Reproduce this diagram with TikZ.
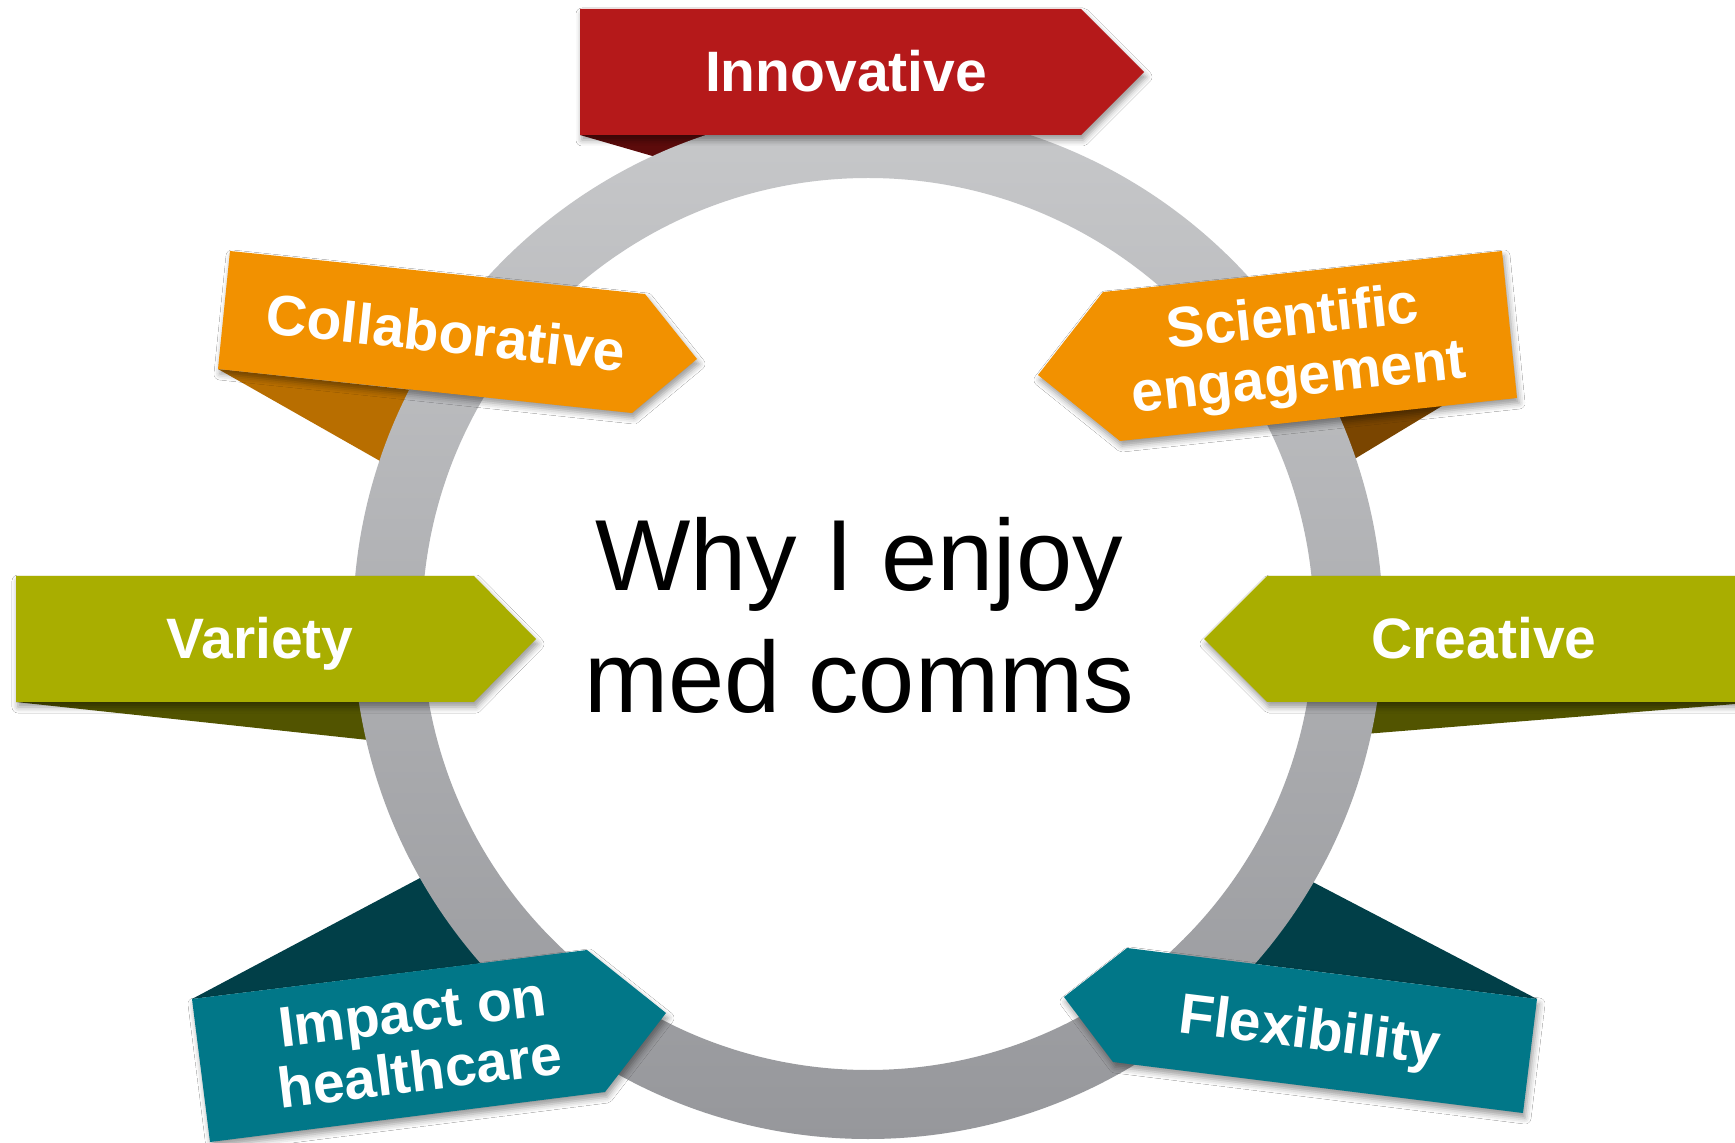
\documentclass[tikz,border=0pt]{standalone}
\usepackage{fontspec}
\setmainfont{Liberation Sans}
\usetikzlibrary{shadows.blur}

\definecolor{innovred}{HTML}{B5191A}
\definecolor{redfold}{HTML}{5C0B0B}
\definecolor{orangeband}{HTML}{F29100}
\definecolor{orangefold}{HTML}{B86E00}
\definecolor{orangefoldR}{HTML}{7A4500}
\definecolor{oliveband}{HTML}{A9AE00}
\definecolor{olivefold}{HTML}{525400}
\definecolor{tealband}{HTML}{017788}
\definecolor{tealfold}{HTML}{013F48}
\definecolor{ringtop}{HTML}{C7C8CA}
\definecolor{ringbot}{HTML}{96979B}

\begin{document}
\begin{tikzpicture}[x=0.5pt, y=-0.5pt,
  ribbon/.style={blur shadow={shadow xshift=1pt, shadow yshift=-2.5pt, shadow blur radius=3pt, shadow opacity=40}},
  ribtext/.style={anchor=north, text=white, inner sep=0pt, align=center,
    font=\fontsize{28.5}{30}\selectfont\bfseries}]
\useasboundingbox[fill=white] (0,0) rectangle (1735,1143);
\coordinate (ring) at (868,624);

% folds, tucked behind the ring
\fill[redfold] (580,135) -- (680,164) -- (730,135) -- cycle;
\fill[orangefold] (218,369) -- (410,478) -- (440,393) -- cycle;
\fill[orangefoldR] (1480,383) -- (1333,472) -- (1300,421) -- cycle;
\fill[olivefold] (16,702) -- (396,743) -- (420,702) -- cycle;
\fill[olivefold] (1760,702) -- (1340,736) -- (1316,702) -- cycle;
\fill[tealfold] (192,999) -- (454,860) -- (500,961) -- cycle;
\fill[tealfold] (1537,999) -- (1282,866) -- (1240,962) -- cycle;

% the ring
\shade[top color=ringtop, bottom color=ringbot, even odd rule]
  (ring) circle[radius=515] (ring) circle[radius=446];

% banners
\fill[innovred, ribbon] (580,9) -- (1081,9) -- (1144,72) -- (1081,135) -- (580,135) -- cycle;
\fill[orangeband, ribbon] (230,251) -- (645,294) -- (697,359) -- (632,413) -- (218,369) -- cycle;
\fill[orangeband, ribbon] (1038,375) -- (1103,292) -- (1502,251) -- (1517,398) -- (1120,441) -- cycle;
\fill[oliveband, ribbon] (16,576) -- (474,576) -- (536,639) -- (474,702) -- (16,702) -- cycle;
\fill[oliveband, ribbon] (1204,639) -- (1267,576) -- (1760,576) -- (1760,702) -- (1267,702) -- cycle;
\fill[tealband, ribbon] (192,999) -- (587,950) -- (666,1013) -- (605,1092) -- (210,1142) -- cycle;
\fill[tealband, ribbon] (1064,997) -- (1127,948) -- (1537,999) -- (1523,1113) -- (1113,1062) -- cycle;

% labels
\node[ribtext] (innov) at (846,50) {Innovative};
\node[ribtext, rotate=-6] (collab) at (448,311) {Collaborative};
\node[ribtext, rotate=6] (sci) at (1290,294) {Scientific\\engagement};
\node[ribtext] (variety) at (260,617) {Variety};
\node[ribtext] (creative) at (1484,617) {Creative};
\node[ribtext, rotate=7] (impact) at (410,992) {Impact on\\healthcare};
\node[ribtext, rotate=-7] (flex) at (1313,1007) {Flexibility};

\node[anchor=north, inner sep=0pt, align=center, font=\fontsize{50.5}{61}\selectfont] (why) at (859,517) {Why I enjoy\\med comms};
\end{tikzpicture}
\end{document}
